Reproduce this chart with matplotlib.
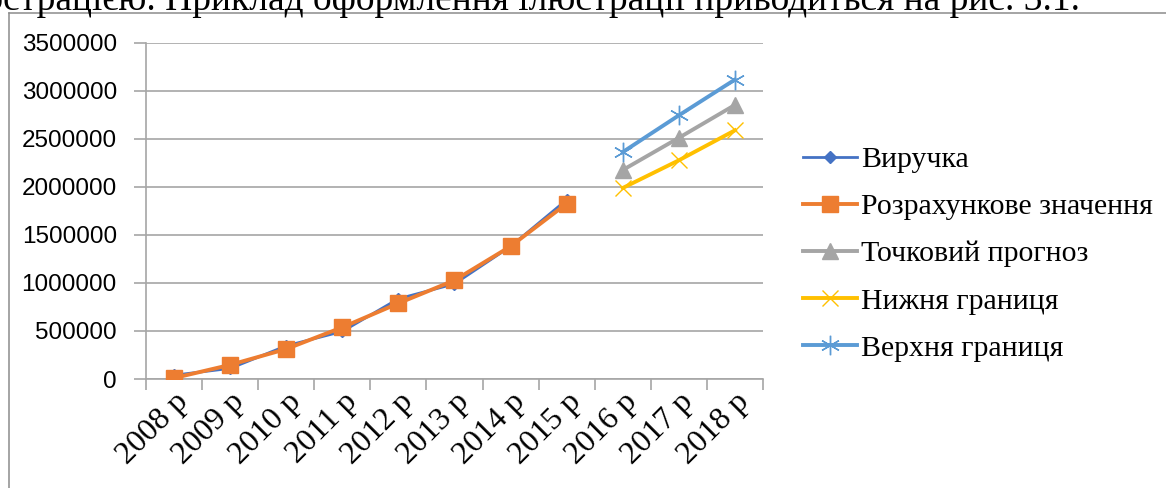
import matplotlib
matplotlib.use('Agg')
import matplotlib.pyplot as plt
import matplotlib.transforms as mtransforms
import numpy as np
from matplotlib.lines import Line2D

# дані графіка
years = ['2008 р', '2009 р', '2010 р', '2011 р', '2012 р', '2013 р',
         '2014 р', '2015 р', '2016 р', '2017 р', '2018 р']
revenue = [40000, 110000, 345000, 495000, 835000, 990000, 1380000, 1865000]
calc_value = [10000, 147000, 312000, 538000, 788000, 1027000, 1381000, 1825000]
point_forecast = [2175000, 2510000, 2852000]
lower_bound = [1988000, 2276000, 2588000]
upper_bound = [2362000, 2744000, 3116000]
y_ticks = [0, 500000, 1000000, 1500000, 2000000, 2500000, 3000000, 3500000]

serif = 'Liberation Serif'
sans = 'Liberation Sans'

fig = plt.figure(figsize=(11.66, 4.88), dpi=100)
fig.set_facecolor('white')

# шматок тексту документа над рамкою діаграми
fig.text(1080 / 1166, 1 - 10.5 / 488,
         'ілюстрацією. Приклад оформлення ілюстрації приводиться на рис. 3.1.',
         ha='right', va='baseline', family=serif, size=27, color='black')

# рамка діаграми
frame_col = '#8c8c8c'
fig.add_artist(Line2D([8.5 / 1166, 8.5 / 1166], [1 - 12.5 / 488, 0],
                      transform=fig.transFigure, color=frame_col, lw=1.1))
fig.add_artist(Line2D([8.5 / 1166, 1], [1 - 12.5 / 488, 1 - 12.5 / 488],
                      transform=fig.transFigure, color=frame_col, lw=1.1))

ax = fig.add_axes([146 / 1166, 1 - 379 / 488, (763 - 146) / 1166, (379 - 42.7) / 488])

x_hist = np.arange(len(revenue))
x_fc = np.arange(len(years) - len(point_forecast), len(years))

ax.plot(x_hist, revenue, color='#4472C4', lw=2.0, marker='D', markersize=6,
        label='Виручка', zorder=3)
ax.plot(x_hist, calc_value, color='#ED7D31', lw=2.8, marker='s', markersize=12,
        label='Розрахункове значення', zorder=4)
ax.plot(x_fc, point_forecast, color='#A5A5A5', lw=2.8, marker='^', markersize=12,
        label='Точковий прогноз', zorder=3)
ax.plot(x_fc, lower_bound, color='#FFC000', lw=2.8, marker='x', markersize=12,
        markeredgewidth=1.0, label='Нижня границя', zorder=3)
ax.plot(x_fc, upper_bound, color='#5B9BD5', lw=2.8, marker=(6, 2, 0), markersize=14,
        markeredgewidth=1.0, label='Верхня границя', zorder=3)

ax.set_xlim(-0.5, len(years) - 0.5)
ax.set_ylim(0, 3500000)
ax.set_yticks(y_ticks)
ax.set_yticklabels([str(v) for v in y_ticks], family=sans, size=17.5)
ax.yaxis.grid(True, color='#a6a6a6', lw=1.2)
ax.set_axisbelow(True)

ax.set_xticks(np.arange(len(years)))
ax.set_xticklabels(years, family=serif, size=23, rotation=45, ha='right',
                   rotation_mode='anchor')
# трохи зсуваємо підписи вліво-вниз
shift = mtransforms.ScaledTranslation(-4 / 72, -2 / 72, fig.dpi_scale_trans)
for lbl in ax.get_xticklabels():
    lbl.set_transform(lbl.get_transform() + shift)
ax.set_xticks(np.arange(len(years) + 1) - 0.5, minor=True)
ax.tick_params(axis='x', which='major', length=0, pad=6)
ax.tick_params(axis='x', which='minor', length=8, color='#a6a6a6', width=1.2)
ax.tick_params(axis='y', length=9, color='#a6a6a6', width=1.2, pad=12)

for s in ['top', 'right']:
    ax.spines[s].set_visible(False)
for s in ['left', 'bottom']:
    ax.spines[s].set_color('#a6a6a6')
    ax.spines[s].set_linewidth(1.2)

ax.legend(loc='center left', bbox_to_anchor=(803 / 1166, 1 - 254 / 488),
          bbox_transform=fig.transFigure, frameon=False, borderpad=0,
          borderaxespad=0, handlelength=1.8, handletextpad=0.15,
          labelspacing=0.68, prop={'family': serif, 'size': 21.5})

fig.savefig('out.png', dpi=100)
